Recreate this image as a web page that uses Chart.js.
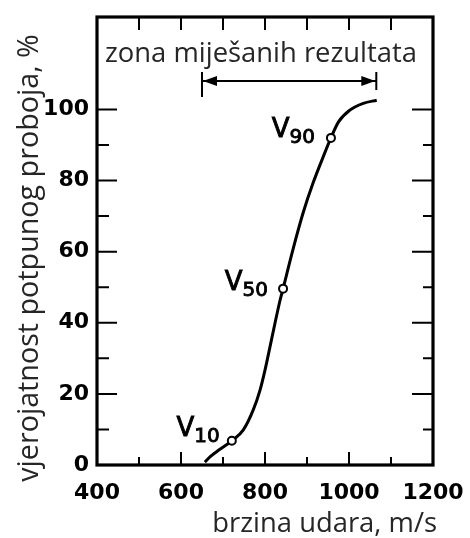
<!DOCTYPE html>
<html>
<head>
<meta charset="utf-8">
<script src="https://cdn.jsdelivr.net/npm/chart.js@4.4.1/dist/chart.umd.min.js"></script>
<style>
    html, body { margin: 0; padding: 0; background: #fff; }
    #wrap { width: 470px; height: 538px; }
</style>
</head>
<body>
<div id="wrap"><canvas id="graf" width="470" height="538"></canvas></div>
<script>
// krivulja vjerojatnosti proboja (ocitano sa slike)
const brzina = [657, 669, 690, 721, 748, 772, 788, 800, 812, 824, 836, 843, 867, 891, 915, 939, 957, 975, 1002, 1034, 1066];
const vjerojatnost = [0.8, 2.3, 4.2, 6.8, 9.8, 15.5, 21, 26.7, 33.3, 40, 46.4, 49.6, 60.8, 71, 79.5, 86.8, 92, 96.5, 99.8, 101.7, 102.6];

// oznacene tocke V10, V50, V90
const tockeX = [721, 843, 957];
const tockeY = [6.8, 49.6, 92];
const tockeOznake = ['10', '50', '90'];

const xOznake = [400, 600, 800, 1000, 1200];
const yOznake = [0, 20, 40, 60, 80, 100];
const xSporedne = [500, 700, 900, 1100];
const ySporedne = [10, 30, 50, 70, 90];

// zona mijesanih rezultata
const zona = [650, 1065];
const zonaRazina = 108;
const zonaCrtice = [110.5, 103.5, 105.5];

// font velicine da tekst zauzme zadanu sirinu
function prilagodi(ctx, tekst, obitelj, sirina) {
    ctx.font = '20px ' + obitelj;
    const s = 20 * sirina / ctx.measureText(tekst).width;
    ctx.font = s.toFixed(1) + 'px ' + obitelj;
}

const crtez = {
    id: 'crtez',
    afterDatasetsDraw(chart) {
        const { ctx, chartArea: a, scales: { x, y } } = chart;
        ctx.save();
        ctx.strokeStyle = '#000';
        ctx.fillStyle = '#000';

        // okvir
        ctx.lineWidth = 3.2;
        ctx.strokeRect(a.left, a.top, a.right - a.left, a.bottom - a.top);

        // crtice prema unutra
        ctx.lineWidth = 2;
        ctx.beginPath();
        yOznake.forEach(v => {
            const py = y.getPixelForValue(v);
            ctx.moveTo(a.left, py); ctx.lineTo(a.left + 20, py);
            ctx.moveTo(a.right, py); ctx.lineTo(a.right - 21, py);
        });
        ySporedne.forEach(v => {
            const py = y.getPixelForValue(v);
            ctx.moveTo(a.left, py); ctx.lineTo(a.left + 12, py);
            ctx.moveTo(a.right, py); ctx.lineTo(a.right - 10, py);
        });
        xOznake.slice(1, -1).forEach(v => {
            const px = x.getPixelForValue(v);
            ctx.moveTo(px, a.bottom); ctx.lineTo(px, a.bottom - 13);
            ctx.moveTo(px, a.top); ctx.lineTo(px, a.top + 13);
        });
        xSporedne.forEach(v => {
            const px = x.getPixelForValue(v);
            ctx.moveTo(px, a.bottom); ctx.lineTo(px, a.bottom - 8);
            ctx.moveTo(px, a.top); ctx.lineTo(px, a.top + 13);
        });
        ctx.stroke();

        // strelica zone
        const x1 = x.getPixelForValue(zona[0]);
        const x2 = x.getPixelForValue(zona[1]);
        const yz = y.getPixelForValue(zonaRazina);
        ctx.beginPath();
        ctx.moveTo(x1, yz); ctx.lineTo(x2, yz);
        ctx.moveTo(x1, y.getPixelForValue(zonaCrtice[0])); ctx.lineTo(x1, y.getPixelForValue(zonaCrtice[1]));
        ctx.moveTo(x2, y.getPixelForValue(zonaCrtice[0])); ctx.lineTo(x2, y.getPixelForValue(zonaCrtice[2]));
        ctx.stroke();
        ctx.beginPath();
        ctx.moveTo(x1 + 1, yz); ctx.lineTo(x1 + 15, yz - 5); ctx.lineTo(x1 + 15, yz + 5); ctx.closePath();
        ctx.moveTo(x2 - 1, yz); ctx.lineTo(x2 - 15, yz - 5); ctx.lineTo(x2 - 15, yz + 5); ctx.closePath();
        ctx.fill();

        // oznake V10, V50, V90
        const pomakX = [-12, -15, -16];
        const pomakY = [1, 7, 5];
        ctx.lineWidth = 0.9;
        tockeOznake.forEach((t, i) => {
            const px = x.getPixelForValue(tockeX[i]) + pomakX[i];
            const py = y.getPixelForValue(tockeY[i]) + pomakY[i];
            ctx.textAlign = 'right';
            ctx.textBaseline = 'alphabetic';
            ctx.font = '20px "DejaVu Sans"';
            ctx.fillText(t, px, py);
            ctx.strokeText(t, px, py);
            const w = ctx.measureText(t).width;
            ctx.font = '26px "DejaVu Sans"';
            ctx.fillText('V', px - w, py - 6);
            ctx.strokeText('V', px - w, py - 6);
        });

        // tekstovi
        ctx.fillStyle = '#262626';
        ctx.textAlign = 'center';
        prilagodi(ctx, 'zona miješanih rezultata', '"Open Sans"', 312);
        ctx.fillText('zona miješanih rezultata', 261, 62);
        ctx.textAlign = 'right';
        prilagodi(ctx, 'brzina udara, m/s', '"Open Sans"', 225);
        ctx.fillText('brzina udara, m/s', 437, 532);
        ctx.translate(38, 258);
        ctx.rotate(-Math.PI / 2);
        ctx.textAlign = 'center';
        prilagodi(ctx, 'vjerojatnost potpunog proboja, %', '"Open Sans"', 448);
        ctx.fillText('vjerojatnost potpunog proboja, %', 0, 0);
        ctx.restore();
    }
};

const fontOznaka = { family: '"DejaVu Sans"', size: 22, weight: 'bold' };

new Chart(document.getElementById('graf'), {
    type: 'line',
    data: {
        datasets: [
            {
                label: 'tocke',
                data: tockeX.map((v, i) => ({ x: v, y: tockeY[i] })),
                showLine: false,
                pointRadius: 4,
                pointBorderWidth: 2,
                pointBackgroundColor: '#fff',
                pointBorderColor: '#000',
                order: 0
            },
            {
                label: 'krivulja',
                data: brzina.map((v, i) => ({ x: v, y: vjerojatnost[i] })),
                borderColor: '#000',
                borderWidth: 3,
                pointRadius: 0,
                cubicInterpolationMode: 'monotone',
                fill: false,
                order: 1
            }
        ]
    },
    options: {
        responsive: false,
        animation: false,
        devicePixelRatio: 1,
        layout: { padding: { top: 17, right: 37, left: 0, bottom: 0 } },
        plugins: { legend: { display: false }, tooltip: { enabled: false } },
        scales: {
            x: {
                type: 'linear',
                min: 400, max: 1200,
                afterBuildTicks: s => { s.ticks = xOznake.map(v => ({ value: v })); },
                afterFit: s => { s.height = 73; s.paddingLeft = 0; s.paddingRight = 0; },
                grid: { display: false, drawTicks: false },
                border: { display: false },
                ticks: { font: fontOznaka, color: '#000', padding: 15, maxRotation: 0, callback: v => String(v) }
            },
            y: {
                min: 0, max: 126,
                afterBuildTicks: s => { s.ticks = yOznake.map(v => ({ value: v })); },
                afterFit: s => { s.width = 97; s.paddingTop = 0; s.paddingBottom = 0; },
                grid: { display: false, drawTicks: false },
                border: { display: false },
                ticks: { font: fontOznaka, color: '#000', padding: 8, callback: v => String(v) }
            }
        }
    },
    plugins: [crtez]
});
</script>
</body>
</html>
